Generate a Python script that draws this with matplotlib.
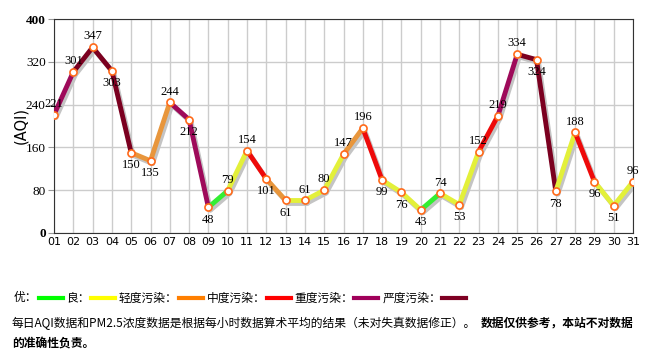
import numpy as np
import matplotlib
matplotlib.use('Agg')
import matplotlib.pyplot as plt
import matplotlib.patheffects as pe

plt.rcParams['font.family'] = ['Noto Sans CJK SC', 'DejaVu Sans']

# Datos: AQI diario
dias = list(range(1, 32))
etiquetas_x = ['%02d' % d for d in dias]
aqi = [221, 301, 347, 303, 150, 135, 244, 212, 48, 79, 154, 101, 61, 61, 80,
       147, 196, 99, 76, 43, 74, 53, 152, 219, 334, 324, 78, 188, 96, 51, 96]

# nivel de cada tramo (0 优 ... 5 严重)
nivel_tramo = [4, 5, 5, 5, 2, 2, 4, 4, 0, 1, 3, 2, 1, 1, 1,
               2, 3, 1, 1, 0, 1, 1, 3, 4, 5, 5, 1, 3, 1, 1]

colores_linea = ['#33ee33', '#e3f03a', '#e8963c', '#ee0a0a', '#9e0a5a', '#7b0020']
colores_leyenda = ['#00ff00', '#ffff00', '#ff7f00', '#ff0000', '#a0005a', '#7e0023']
nombres_leyenda = ['优：', '良：', '轻度污染：', '中度污染：', '重度污染：', '严度污染：']
ticks_y = [0, 80, 160, 240, 320, 400]

fig = plt.figure(figsize=(6.64, 3.64), dpi=100)
ax = fig.add_axes([54/664, 1 - 233/364, (633-54)/664, (233-19)/364])

# sombra
sombra = [pe.SimpleLineShadow(offset=(1.5, -2), shadow_color='#c4c4c4', alpha=1.0), pe.Normal()]
for i in range(len(dias) - 1):
    ax.plot(dias[i:i+2], aqi[i:i+2], color=colores_linea[nivel_tramo[i]], lw=3.5,
            solid_capstyle='round', zorder=3, path_effects=sombra)

ax.scatter(dias, aqi, s=26, facecolor='white', edgecolor='#ff6a1a', linewidth=1.2, zorder=5)

for i, v in enumerate(aqi):
    arriba = i == 0 or v >= aqi[i-1]
    ax.annotate(str(v), (dias[i], v), xytext=(0, 3.5 if arriba else -4.5), textcoords='offset points',
                ha='center', va='bottom' if arriba else 'top', fontsize=9,
                family='Liberation Serif', zorder=6)

ax.set_xlim(1, 31)
ax.set_ylim(0, 400)
ax.set_xticks(dias)
ax.set_xticklabels(etiquetas_x, family='DejaVu Sans', fontsize=8)
ax.set_yticks(ticks_y)
ax.set_yticklabels([str(t) for t in ticks_y], family='Liberation Serif', fontsize=9.5)
for t in ax.get_yticklabels():
    if t.get_text() in ('0', '400'):
        t.set_fontweight('bold')
ax.tick_params(axis='x', length=0, pad=3)
ax.tick_params(axis='y', length=4, color='#999999', pad=2)
ax.grid(True, color='#cccccc', lw=1)
ax.set_axisbelow(True)
for s in ax.spines.values():
    s.set_color('#333333')
ax.set_ylabel('(AQI)', fontsize=10.5, family='DejaVu Sans', labelpad=-2)

# leyenda manual
x = 14
y = 298
for nombre, col in zip(nombres_leyenda, colores_leyenda):
    t = fig.text(x/664, 1 - y/364, nombre, fontsize=8.5, va='center', ha='left')
    fig.canvas.draw()
    w = t.get_window_extent().width
    x0 = x + w + 1
    fig.add_artist(plt.Line2D([x0/664, (x0+24)/664], [1 - y/364, 1 - y/364], color=col, lw=3))
    x = x0 + 28

fig.text(12/664, 1 - 323/364, '每日AQI数据和PM2.5浓度数据是根据每小时数据算术平均的结果（未对失真数据修正）。',
         fontsize=8.5, va='center', ha='left')
fig.text(481/664, 1 - 323/364, '数据仅供参考，本站不对数据', fontsize=8.5, va='center', ha='left',
         fontweight='bold')
fig.text(12/664, 1 - 344/364, '的准确性负责。', fontsize=8.5, va='center', ha='left', fontweight='bold')

fig.savefig('out.png', dpi=100)
